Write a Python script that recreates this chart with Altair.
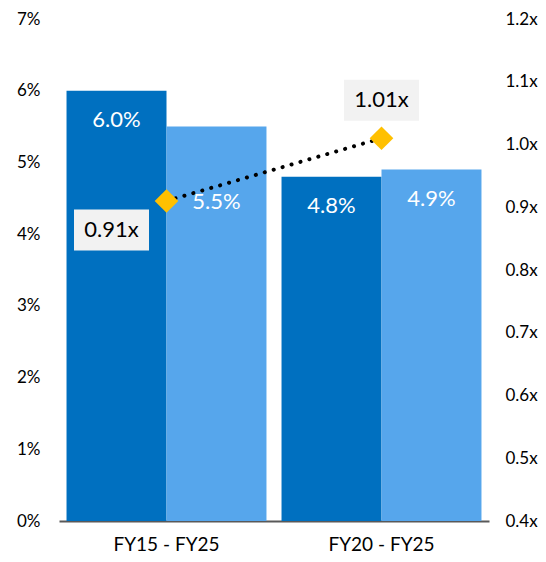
import altair as alt
import pandas as pd

periods = ["FY15 - FY25", "FY20 - FY25"]
series = ["Series 1", "Series 2"]
dark_vals = [6.0, 4.8]
light_vals = [5.5, 4.9]
multiples = [0.91, 1.01]
mult_labels = ["0.91x", "1.01x"]
left_ticks = [0, 0.01, 0.02, 0.03, 0.04, 0.05, 0.06, 0.07]
right_ticks = [0.4, 0.5, 0.6, 0.7, 0.8, 0.9, 1.0, 1.1, 1.2]

rows = []
for p, d, l in zip(periods, dark_vals, light_vals):
    rows.append({"period": p, "series": series[0], "value": d / 100, "label": f"{d:.1f}%"})
    rows.append({"period": p, "series": series[1], "value": l / 100, "label": f"{l:.1f}%"})
bars_df = pd.DataFrame(rows)
mult_df = pd.DataFrame({"period": periods, "mult": multiples, "label": mult_labels})

FONT = "Lato"
DARK = "#0070C0"
LIGHT = "#56A6EC"

x_enc = alt.X(
    "period:N", sort=periods,
    scale=alt.Scale(paddingInner=0.07, paddingOuter=0.035),
    axis=alt.Axis(title=None, labelAngle=0, ticks=False, domainColor="#595959",
                  domainWidth=2, labelFontSize=19, labelPadding=14),
)
xo_enc = alt.XOffset("series:N", sort=series, scale=alt.Scale(paddingInner=0, paddingOuter=0))

left_y = alt.Y(
    "value:Q", scale=alt.Scale(domain=[0, 0.07], nice=False),
    axis=alt.Axis(values=left_ticks, format=".0%", domain=False, ticks=False, grid=False,
                  labelPadding=19, title=None),
)
right_y = alt.Y(
    "mult:Q", scale=alt.Scale(domain=[0.4, 1.2], nice=False, zero=False),
    axis=alt.Axis(orient="right", values=right_ticks, labelExpr="format(datum.value, '.1f') + 'x'",
                  domain=False, ticks=False, grid=False, labelPadding=16, title=None),
)

base_bars = alt.Chart(bars_df)
bars = base_bars.mark_bar().encode(
    x=x_enc, xOffset=xo_enc, y=left_y,
    color=alt.Color("series:N", sort=series, scale=alt.Scale(domain=series, range=[DARK, LIGHT]), legend=None),
)
bar_labels = base_bars.mark_text(color="white", fontSize=22, font=FONT, dy=29, baseline="middle").encode(
    x=x_enc, xOffset=xo_enc, y=left_y, text="label:N",
).transform_filter(
    f"!(datum.period == '{periods[0]}' && datum.series == '{series[1]}')"
)
bar_label_low = base_bars.mark_text(color="white", fontSize=22, font=FONT, dy=75, baseline="middle").encode(
    x=x_enc, xOffset=xo_enc, y=left_y, text="label:N",
).transform_filter(
    f"datum.period == '{periods[0]}' && datum.series == '{series[1]}'"
)

base_m = alt.Chart(mult_df)
line = base_m.mark_line(color="black", strokeWidth=4, strokeDash=[0.1, 9.2], strokeCap="round").encode(
    x=x_enc, y=right_y,
)
diamonds = base_m.mark_point(shape="diamond", filled=True, color="#FFC000", size=560, opacity=1).encode(
    x=x_enc, y=right_y,
)
BOX = "M-1,-0.547L1,-0.547L1,0.547L-1,0.547Z"
box1 = base_m.mark_point(shape=BOX, filled=True, color="#F2F2F2", size=5625, opacity=1,
                         xOffset=-55, yOffset=29).encode(x=x_enc, y=right_y).transform_filter(
    f"datum.period == '{periods[0]}'")
box2 = base_m.mark_point(shape=BOX, filled=True, color="#F2F2F2", size=5625, opacity=1,
                         yOffset=-38).encode(x=x_enc, y=right_y).transform_filter(
    f"datum.period == '{periods[1]}'")
lab1 = base_m.mark_text(fontSize=22, font=FONT, color="#000000", dx=-55, dy=29, baseline="middle").encode(
    x=x_enc, y=right_y, text="label:N").transform_filter(f"datum.period == '{periods[0]}'")
lab2 = base_m.mark_text(fontSize=22, font=FONT, color="#000000", dy=-38, baseline="middle").encode(
    x=x_enc, y=right_y, text="label:N").transform_filter(f"datum.period == '{periods[1]}'")

left_layer = alt.layer(bars, bar_labels, bar_label_low)
right_layer = alt.layer(line, diamonds, box1, box2, lab1, lab2)

chart = alt.layer(left_layer, right_layer).resolve_scale(y="independent").properties(
    width=430, height=502,
    padding={"left": 8, "top": 2, "right": 0, "bottom": 0},
).configure_view(stroke=None).configure_axis(
    labelFont=FONT, labelFontSize=17, labelColor="#000000",
)

chart.save("out.html", embed_options={"renderer": "svg", "actions": False})
